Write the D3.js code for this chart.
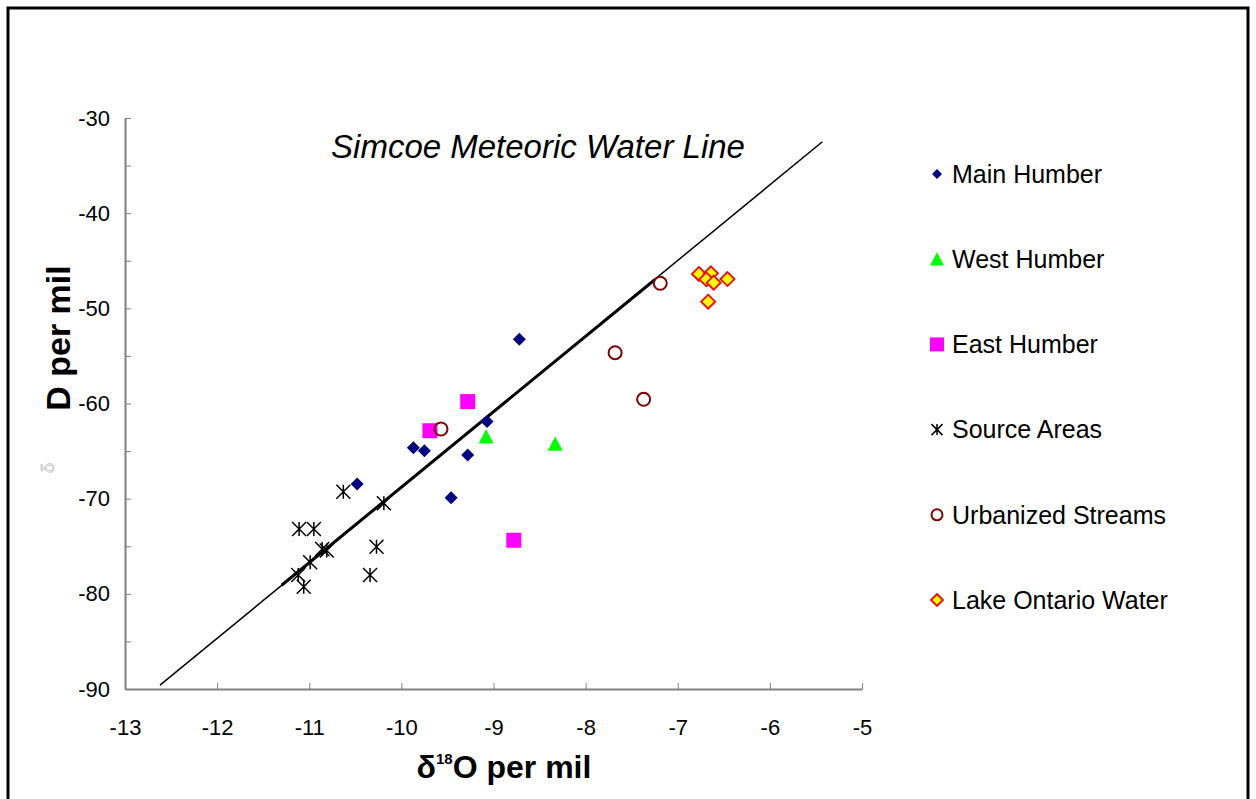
<!DOCTYPE html>
<html>
<head>
<meta charset="utf-8">
<script src="https://cdn.jsdelivr.net/npm/d3@7"></script>
<style>
  body { margin: 0; background: #fff; }
  svg text { font-family: "Liberation Sans", Arial, sans-serif; }
</style>
</head>
<body>
<svg id="chart" width="1256" height="799"></svg>
<script>
// series values (delta 18O, delta D)
const mainHumberX = [-8.72, -9.07, -9.87, -9.75, -9.28, -10.48, -9.46];
const mainHumberY = [-53.25, -61.9, -64.64, -64.96, -65.41, -68.46, -69.9];
const westHumberX = [-9.08, -8.33];
const westHumberY = [-63.5, -64.25];
const eastHumberX = [-9.28, -9.69, -8.78];
const eastHumberY = [-59.8, -62.86, -74.37];
const sourceX = [-10.63, -10.19, -11.11, -10.95, -10.86, -10.81, -10.99, -10.27, -10.34, -11.12, -11.06];
const sourceY = [-69.27, -70.49, -73.19, -73.19, -75.29, -75.45, -76.68, -75.05, -78.02, -78.02, -79.25];
const urbanX = [-7.19, -7.68, -7.37, -9.57];
const urbanY = [-47.37, -54.66, -59.56, -62.68];
const lakeX = [-6.77, -6.64, -6.69, -6.61, -6.46, -6.67];
const lakeY = [-46.39, -46.32, -46.95, -47.31, -46.92, -49.3];
// meteoric water line end points
const mwlX = [-12.62, -5.43];
const mwlY = [-89.6, -32.5];
const mwl2X = [-11.3, -7.25];
const mwl2Y = [-79.1, -47.0];

const seriesNames = ["Main Humber", "West Humber", "East Humber", "Source Areas", "Urbanized Streams", "Lake Ontario Water"];
const xTicks = [-13, -12, -11, -10, -9, -8, -7, -6, -5];
const yTicks = [-30, -40, -50, -60, -70, -80, -90];

const svg = d3.select("#chart");

// outer frame
svg.append("rect").attr("x", 8).attr("y", 8).attr("width", 1240).attr("height", 820)
  .attr("fill", "none").attr("stroke", "#000").attr("stroke-width", 3);

const x = d3.scaleLinear().domain([-13, -5]).range([125, 862]);
const y = d3.scaleLinear().domain([-90, -30]).range([689, 118]);

// y axis: ticks every 5, labels every 10
const yAxis = d3.axisLeft(y)
  .tickValues(d3.range(-90, -29, 5))
  .tickSize(-6).tickSizeOuter(0).tickPadding(15)
  .tickFormat(d => yTicks.includes(d) ? String(d) : "");
const yG = svg.append("g").attr("transform", "translate(125,0)").call(yAxis);

const xAxis = d3.axisBottom(x).tickValues(xTicks)
  .tickSize(-6).tickSizeOuter(0).tickPadding(38)
  .tickFormat(d => String(d));
const xG = svg.append("g").attr("transform", "translate(0,689)").call(xAxis);

[yG, xG].forEach(g => {
  g.select(".domain").attr("stroke", "#808080").attr("stroke-width", 2);
  g.selectAll(".tick line").attr("stroke", "#808080").attr("stroke-width", 1);
  g.selectAll(".tick text").attr("fill", "#000").style("font-size", "22px")
    .style("font-family", "'Liberation Sans', Arial, sans-serif");
});
xG.selectAll(".tick text").attr("dy", "0.35em");

// axis titles
svg.append("text").attr("transform", "translate(70,338) rotate(-90)")
  .attr("text-anchor", "middle").style("font-size", "34px").style("font-weight", "bold")
  .text("D per mil");
svg.append("text").attr("transform", "translate(48,468) rotate(-90)")
  .attr("text-anchor", "middle").attr("dy", "0.35em").style("font-size", "18px")
  .attr("fill", "none").attr("stroke", "#c8c8c8").attr("stroke-width", 0.8)
  .text("δ");

const xt = svg.append("text").attr("x", 504).attr("y", 778).attr("text-anchor", "middle")
  .style("font-size", "32px").style("font-weight", "bold");
xt.append("tspan").text("δ");
xt.append("tspan").attr("dy", -14).style("font-size", "15px").text("18");
xt.append("tspan").attr("dy", 14).text("O per mil");

// title
svg.append("text").attr("x", 538).attr("y", 158).attr("text-anchor", "middle")
  .style("font-size", "33px").style("font-style", "italic").text("Simcoe Meteoric Water Line");

// water lines
const line = d3.line().x(d => x(d[0])).y(d => y(d[1]));
svg.append("path").attr("d", line(mwlX.map((v, i) => [v, mwlY[i]])))
  .attr("fill", "none").attr("stroke", "#000").attr("stroke-width", 1.5);
svg.append("path").attr("d", line(mwl2X.map((v, i) => [v, mwl2Y[i]])))
  .attr("fill", "none").attr("stroke", "#000").attr("stroke-width", 3);

// marker paths
const diamond = s => `M0,${-s}L${s},0L0,${s}L${-s},0Z`;
const star = s => `M${-s},${-s}L${s},${s}M${-s},${s}L${s},${-s}M0,${-s}L0,${s}`;
const tri = s => `M0,${-s}L${s},${s * 0.9}L${-s},${s * 0.9}Z`;
const square = s => `M${-s},${-s}H${s}V${s}H${-s}Z`;
const circle = s => d3.symbol(d3.symbolCircle, Math.PI * s * s)();

const styles = [
  {xs: mainHumberX, ys: mainHumberY, path: diamond, size: 6.5, fill: "#000080", stroke: "none", sw: 0, lsize: 5},
  {xs: westHumberX, ys: westHumberY, path: tri, size: 7.5, fill: "#00ff00", stroke: "none", sw: 0, lsize: 7},
  {xs: eastHumberX, ys: eastHumberY, path: square, size: 7.5, fill: "#ff00ff", stroke: "none", sw: 0, lsize: 7},
  {xs: sourceX, ys: sourceY, path: star, size: 7, fill: "none", stroke: "#000", sw: 1.5, lsize: 5.5},
  {xs: urbanX, ys: urbanY, path: circle, size: 6.5, fill: "none", stroke: "#800000", sw: 2, lsize: 5.5},
  {xs: lakeX, ys: lakeY, path: diamond, size: 7, fill: "#ffff00", stroke: "#ff0000", sw: 1.8, lsize: 6}
];

styles.forEach(st => {
  svg.append("g").selectAll("path")
    .data(st.xs.map((v, i) => [v, st.ys[i]]))
    .join("path")
    .attr("transform", d => `translate(${x(d[0])},${y(d[1])})`)
    .attr("d", st.path(st.size))
    .attr("fill", st.fill).attr("stroke", st.stroke).attr("stroke-width", st.sw);
});

// legend
const legend = svg.append("g").attr("transform", "translate(937,174)");
seriesNames.forEach((name, i) => {
  const st = styles[i];
  const row = legend.append("g").attr("transform", `translate(0,${i * 85.2})`);
  row.append("path").attr("d", st.path(st.lsize))
    .attr("fill", st.fill).attr("stroke", st.stroke).attr("stroke-width", st.sw);
  row.append("text").attr("x", 15).attr("dy", "0.35em").style("font-size", "25px").text(name);
});
</script>
</body>
</html>
